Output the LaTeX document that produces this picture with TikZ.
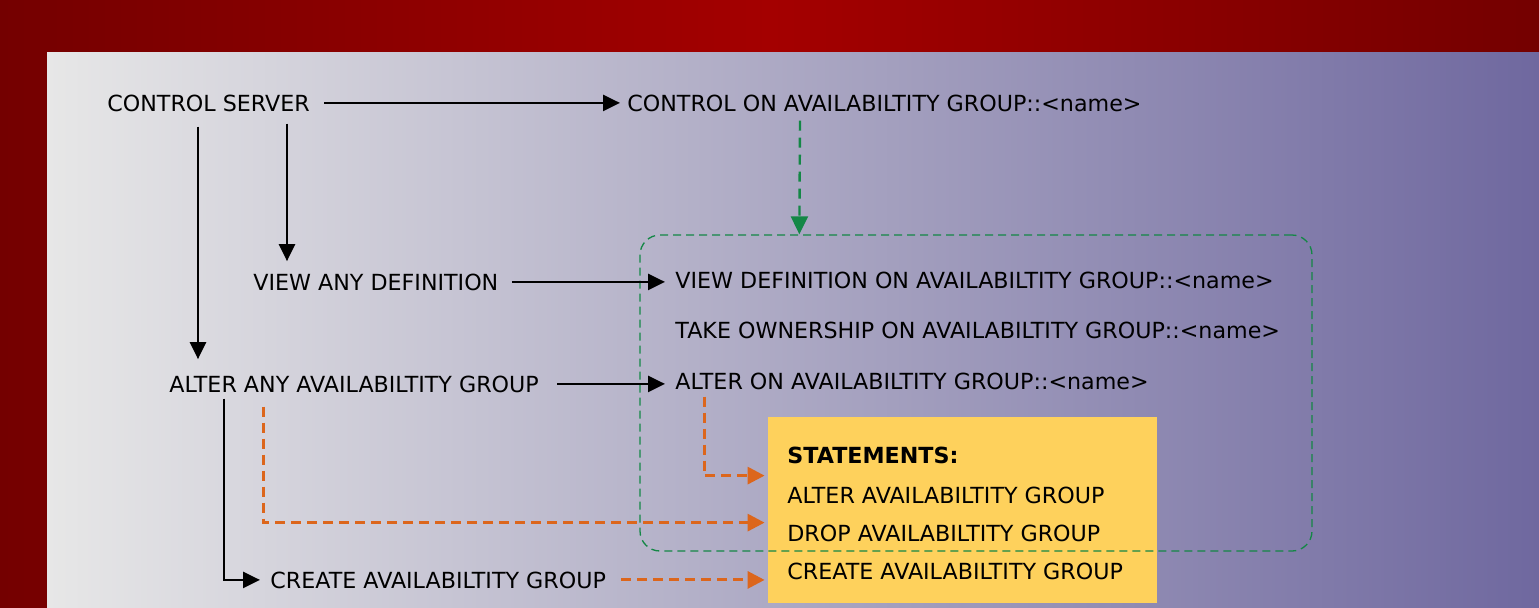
\documentclass[tikz,border=0pt]{standalone}
\usepackage{fontspec}
\setmainfont{DejaVu Sans}
\usetikzlibrary{arrows.meta,calc}
\definecolor{framered}{RGB}{116,0,0}
\definecolor{framemid}{RGB}{164,0,0}
\definecolor{panelleft}{RGB}{231,231,231}
\definecolor{panelright}{RGB}{111,104,159}
\definecolor{stmtyellow}{RGB}{254,209,92}
\definecolor{permgreen}{RGB}{20,135,70}
\definecolor{stmtorange}{RGB}{220,102,28}
\begin{document}
\begin{tikzpicture}[x=0.5pt,y=0.5pt,font=\fontsize{11.1pt}{13pt}\selectfont,
    lbl/.style={anchor=base west,inner sep=0pt},
    blk/.style={line width=1.2pt,-{Triangle[length=8.5pt,width=8pt]}},
    org/.style={line width=1.5pt,stmtorange,dash pattern=on 5pt off 3pt,-{Triangle[length=8.5pt,width=8.5pt]}},
    grn/.style={line width=1.2pt,permgreen,dash pattern=on 5pt off 3.5pt,-{Triangle[length=9pt,width=8.5pt]}}]
    \useasboundingbox (0,0) rectangle (1539,-607);
    % frame and panel
    \shade [left color=framered,right color=framered,middle color=framemid] (0,0) rectangle (1539,-607);
    \shade [left color=panelleft,right color=panelright] (47,-52) rectangle (1539,-607);
    % permissions
    \node [lbl] (ctrlsrv) at (107,-111) {CONTROL SERVER};
    \node [lbl] (ctrlag) at (627,-111) {CONTROL ON AVAILABILTITY GROUP::<name>};
    \node [lbl] (viewany) at (253,-290) {VIEW ANY DEFINITION};
    \node [lbl] (viewag) at (675,-288) {VIEW DEFINITION ON AVAILABILTITY GROUP::<name>};
    \node [lbl] (takeag) at (675,-338) {TAKE OWNERSHIP ON AVAILABILTITY GROUP::<name>};
    \node [lbl] (alterany) at (169,-392) {ALTER ANY AVAILABILTITY GROUP};
    \node [lbl] (alterag) at (675,-389) {ALTER ON AVAILABILTITY GROUP::<name>};
    \node [lbl] (createag) at (270,-588) {CREATE AVAILABILTITY GROUP};
    % statements box
    \node [fill=stmtyellow,inner sep=0pt,minimum width=194.5pt,minimum height=93pt] (stmts) at (962.5,-510) {};
    \node [lbl] (stmthead) at (787,-463) {\bfseries STATEMENTS:};
    \node [lbl] (stmtalter) at (787,-503) {ALTER AVAILABILTITY GROUP};
    \node [lbl] (stmtdrop) at (787,-541) {DROP AVAILABILTITY GROUP};
    \node [lbl] (stmtcreate) at (787,-579) {CREATE AVAILABILTITY GROUP};
    \node [draw=permgreen,line width=0.65pt,dash pattern=on 4pt off 2.5pt,rounded corners=10pt,inner sep=0pt,
        minimum width=336pt,minimum height=158pt] (grp) at (976,-393) {};
    % arrows
    \draw [blk,shorten <=7pt,shorten >=3.5pt] (ctrlsrv.east) -- (ctrlsrv.east -| ctrlag.west);
    \draw [blk] ($(ctrlsrv.south west)+(91,-15)$) -- ($(alterany.north west)+(29,16)$);
    \draw [blk] ($(ctrlsrv.south west)+(180,-12)$) -- ($(viewany.north west)+(34,12)$);
    \draw [blk,shorten <=6.5pt,shorten >=5pt] (viewany.east) -- (viewany.east -| viewag.west);
    \draw [blk,shorten <=9pt,shorten >=5pt] (alterany.east) -- (alterany.east -| alterag.west);
    \draw [blk,shorten >=5pt] ($(alterany.south west)+(55,-6)$) |- (createag.west);
    \draw [grn] ($(ctrlag.south west)+(173,-9)$) -- ($(grp.north west)+(160,0)$);
    \draw [org] ($(alterag.south west)+(29,-7)$) |- ($(stmts.north west)+(-3,-59)$);
    \draw [org] ($(alterany.south west)+(94,-14)$) |- ($(stmts.north west)+(-3,-106)$);
    \draw [org,shorten <=7.5pt,shorten >=1.5pt] (createag.east) -- (createag.east -| stmts.west);
\end{tikzpicture}
\end{document}
